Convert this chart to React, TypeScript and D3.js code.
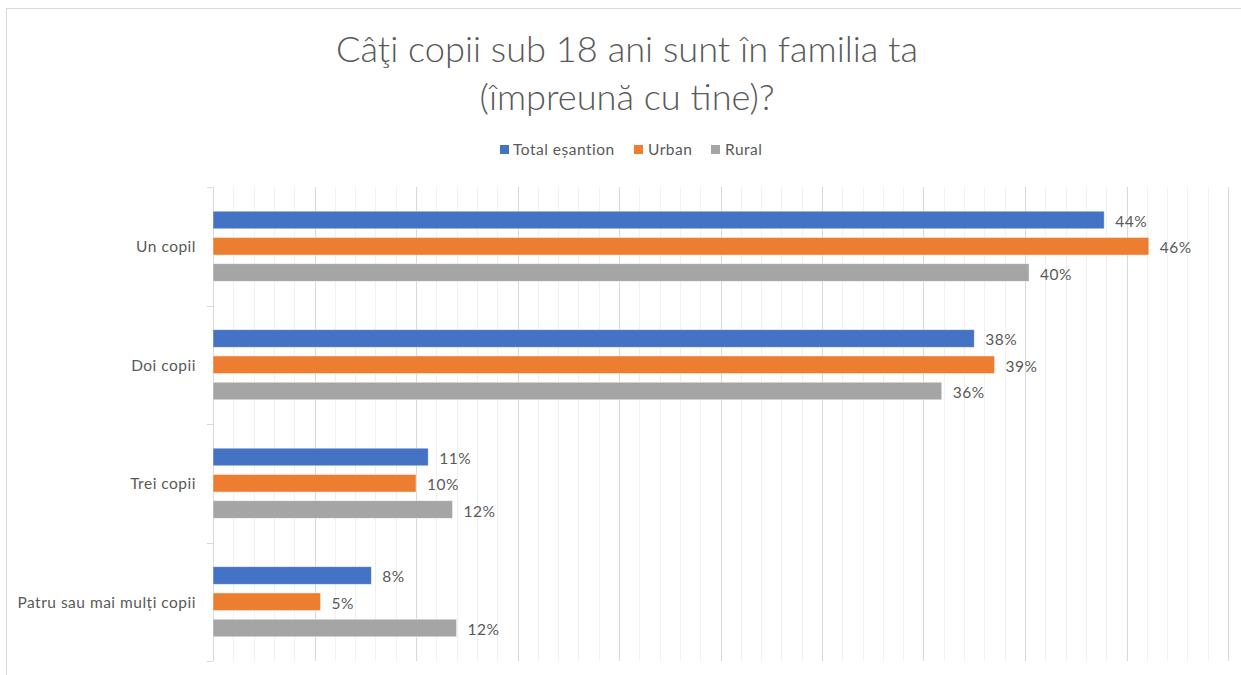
import React from "react";
import * as d3 from "d3";

const categories = ["Un copil", "Doi copii", "Trei copii", "Patru sau mai mulți copii"];
const seriesNames = ["Total eșantion", "Urban", "Rural"];
const totalValues = [43.9, 37.5, 10.6, 7.8];
const urbanValues = [46.1, 38.5, 10.0, 5.3];
const ruralValues = [40.2, 35.9, 11.8, 12.0];
const valueLabels = [
  ["44%", "38%", "11%", "8%"],
  ["46%", "39%", "10%", "5%"],
  ["40%", "36%", "12%", "12%"],
];
const colors = ["#4472C4", "#ED7D31", "#A5A5A5"];
const titleLines = ["Câţi copii sub 18 ani sunt în familia ta", "(împreună cu tine)?"];

const W = 1241;
const H = 675;
const FONT = "Lato, 'Open Sans', sans-serif";
const TXT = "#595959";
const FS = 15.5;
const LS = 0.5;

export default function App() {
  const series = [totalValues, urbanValues, ruralValues];
  const x = d3.scaleLinear().domain([0, 50]).range([213, 1228]);
  const y = d3.scaleBand<string>().domain(categories).range([187, 661]);
  const inner = d3
    .scaleBand<number>()
    .domain([0, 1, 2])
    .range([24.2, 118.5 - 24.2])
    .paddingInner(0.33);
  const minorTicks = d3.range(0, 51, 1);
  const majorTicks = d3.range(0, 51, 5);
  const [y0, y1] = y.range();

  const legendItems = [
    { sq: 500, tx: 513 },
    { sq: 634, tx: 648 },
    { sq: 711, tx: 725 },
  ];

  return (
    <div style={{ position: "fixed", left: 0, top: 0 }}>
      <svg width={W} height={H} style={{ display: "block", background: "#fff" }}>
        <rect x={6.5} y={8.5} width={W + 10} height={H + 10} fill="#fff" stroke="#d9d9d9" strokeWidth={1} />
        {/* title */}
        <text x={627} y={62} textAnchor="middle" fontFamily={FONT} fontWeight={300} fontSize={36.2} fill={TXT}>
          {titleLines[0]}
        </text>
        <text x={627} y={110} textAnchor="middle" fontFamily={FONT} fontWeight={300} fontSize={36.2} fill={TXT}>
          {titleLines[1]}
        </text>
        {/* legend */}
        {seriesNames.map((s, i) => (
          <g key={s}>
            <rect x={legendItems[i].sq} y={145} width={9} height={9} fill={colors[i]} />
            <text x={legendItems[i].tx} y={155} fontFamily={FONT} fontSize={FS} letterSpacing={LS} fill={TXT}>
              {s}
            </text>
          </g>
        ))}
        {/* gridlines */}
        {minorTicks
          .filter((t) => t % 5 !== 0)
          .map((t) => (
            <line key={"m" + t} x1={Math.round(x(t)) + 0.5} x2={Math.round(x(t)) + 0.5} y1={y0} y2={y1} stroke="#f0f0f0" strokeWidth={1} />
          ))}
        {majorTicks
          .filter((t) => t > 0)
          .map((t) => (
            <line key={"M" + t} x1={Math.round(x(t)) + 0.5} x2={Math.round(x(t)) + 0.5} y1={y0} y2={y1} stroke="#d9d9d9" strokeWidth={1} />
          ))}
        {/* category axis */}
        <line x1={213.5} x2={213.5} y1={y0} y2={y1} stroke="#d9d9d9" strokeWidth={1} />
        {d3.range(0, categories.length + 1).map((i) => {
          const yy = Math.round(y0 + i * y.bandwidth()) + 0.5;
          return <line key={"tk" + i} x1={207} x2={213} y1={yy} y2={yy} stroke="#d9d9d9" strokeWidth={1} />;
        })}
        {categories.map((c) => (
          <text
            key={c}
            x={196}
            y={(y(c) as number) + y.bandwidth() / 2}
            textAnchor="end"
            dominantBaseline="central"
            fontFamily={FONT}
            fontSize={FS}
            letterSpacing={LS}
            fill={TXT}
          >
            {c}
          </text>
        ))}
        {/* bars */}
        {series.map((vals, si) =>
          vals.map((v, ci) => {
            const by = (y(categories[ci]) as number) + (inner(si) as number);
            const bh = inner.bandwidth();
            return (
              <g key={si + "-" + ci}>
                <rect
                  x={x(0)}
                  y={by}
                  width={x(v) - x(0)}
                  height={bh}
                  fill={colors[si]}
                  stroke="#ffffff"
                  strokeOpacity={0.6}
                  strokeWidth={0.75}
                />
                <text
                  x={x(v) + 11}
                  y={by + bh / 2 + 1}
                  dominantBaseline="central"
                  fontFamily={FONT}
                  fontSize={FS}
                  letterSpacing={LS}
                  fill={TXT}
                >
                  {valueLabels[si][ci]}
                </text>
              </g>
            );
          })
        )}
      </svg>
    </div>
  );
}
